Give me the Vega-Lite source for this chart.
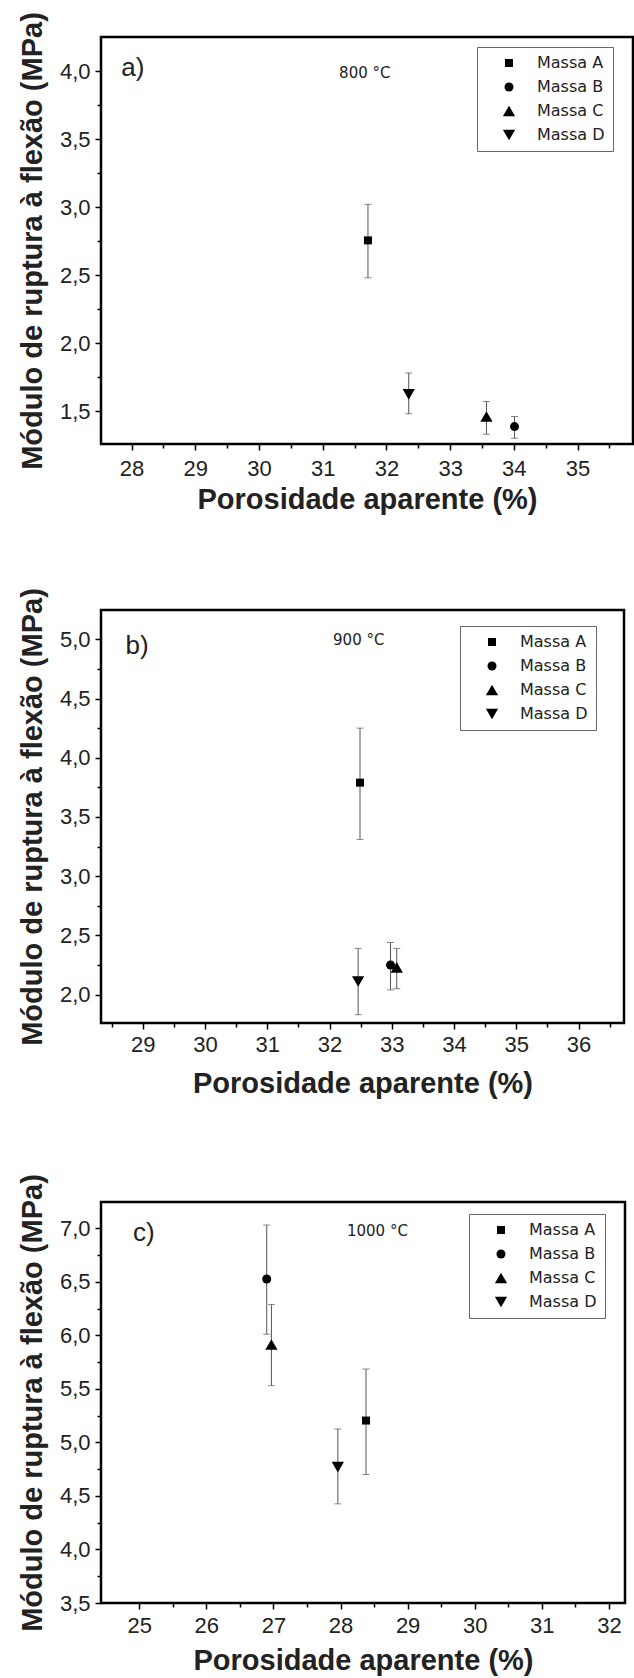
{
  "$schema": "https://vega.github.io/schema/vega-lite/v6.json",
  "padding": {"left": 17, "top": 10, "right": 0, "bottom": 0},
  "spacing": 70,
  "align": "none",
  "bounds": "full",
  "resolve": {"scale": {"shape": "independent", "size": "independent"}, "legend": {"shape": "independent", "size": "independent"}},
  "datasets": {
    "pa": [
      {"massa": "Massa A", "x": 31.71, "y": 2.755, "lo": 2.48, "hi": 3.02},
      {"massa": "Massa B", "x": 34.01, "y": 1.386, "lo": 1.30, "hi": 1.46},
      {"massa": "Massa C", "x": 33.57, "y": 1.46, "lo": 1.33, "hi": 1.57},
      {"massa": "Massa D", "x": 32.35, "y": 1.623, "lo": 1.48, "hi": 1.78}
    ],
    "pb": [
      {"massa": "Massa A", "x": 32.49, "y": 3.79, "lo": 3.31, "hi": 4.25},
      {"massa": "Massa B", "x": 32.98, "y": 2.25, "lo": 2.04, "hi": 2.44},
      {"massa": "Massa C", "x": 33.08, "y": 2.23, "lo": 2.05, "hi": 2.39},
      {"massa": "Massa D", "x": 32.46, "y": 2.11, "lo": 1.83, "hi": 2.39}
    ],
    "pc": [
      {"massa": "Massa A", "x": 28.38, "y": 5.204, "lo": 4.70, "hi": 5.685},
      {"massa": "Massa B", "x": 26.90, "y": 6.526, "lo": 6.01, "hi": 7.03},
      {"massa": "Massa C", "x": 26.97, "y": 5.914, "lo": 5.53, "hi": 6.287},
      {"massa": "Massa D", "x": 27.96, "y": 4.769, "lo": 4.426, "hi": 5.125}
    ]
  },
  "vconcat": [
    {
      "width": 532, "height": 407,
      "data": {"name": "pa"},
      "resolve": {"axis": {"x": "independent", "y": "independent"}},
      "layer": [
        {
          "mark": {"type": "errorbar", "color": "#555", "ticks": {"size": 7, "thickness": 1}, "rule": {"strokeWidth": 1}},
          "encoding": {
            "x": {"field": "x", "type": "quantitative", "scale": {"domain": [27.52, 35.87], "nice": false, "zero": false}, "axis": null},
            "y": {"field": "lo", "type": "quantitative", "scale": {"domain": [1.258, 4.25], "nice": false, "zero": false}, "axis": null},
            "y2": {"field": "hi"}
          }
        },
        {
          "mark": {"type": "point", "filled": true, "color": "black", "opacity": 1, "strokeWidth": 0},
          "encoding": {
            "x": {"field": "x", "type": "quantitative", "scale": {"domain": [27.52, 35.87], "nice": false, "zero": false},
              "axis": {"orient": "bottom", "values": [28, 29, 30, 31, 32, 33, 34, 35], "format": "d", "title": "Porosidade aparente (%)", "tickSize": 6, "labelPadding": 8, "titlePadding": 6}},
            "y": {"field": "y", "type": "quantitative", "scale": {"domain": [1.258, 4.25], "nice": false, "zero": false},
              "axis": {"orient": "left", "values": [1.5, 2, 2.5, 3, 3.5, 4], "labelExpr": "replace(format(datum.value, '.1f'), '.', ',')", "title": "Módulo de ruptura à flexão (MPa)", "tickSize": 6, "labelPadding": 5, "titlePadding": 12}},
            "shape": {"field": "massa", "type": "nominal", "scale": {"type": "ordinal", "domain": ["Massa A", "Massa B", "Massa C", "Massa D"], "range": ["square", "circle", "triangle-up", "triangle-down"]},
              "legend": {"orient": "none", "legendX": 376, "legendY": 10, "title": null, "padding": 8, "strokeColor": "#666", "fillColor": "white", "labelFont": "DejaVu Sans", "labelFontSize": 16, "labelColor": "#222", "symbolOffset": 16, "labelOffset": 20, "rowPadding": 8, "symbolFillColor": "black", "symbolStrokeColor": "black", "symbolStrokeWidth": 0}},
            "size": {"field": "massa", "type": "nominal", "scale": {"type": "ordinal", "domain": ["Massa A", "Massa B", "Massa C", "Massa D"], "range": [64, 81, 150, 150]},
              "legend": {"orient": "none", "legendX": 376, "legendY": 10, "title": null, "padding": 8, "strokeColor": "#666", "fillColor": "white", "labelFont": "DejaVu Sans", "labelFontSize": 16, "labelColor": "#222", "symbolOffset": 16, "labelOffset": 20, "rowPadding": 8, "symbolFillColor": "black", "symbolStrokeColor": "black", "symbolStrokeWidth": 0}}
          }
        },
        {
          "data": {"values": [{"label": "a)", "x": 28.02, "y": 4.02}]},
          "mark": {"type": "text", "font": "Liberation Sans", "fontSize": 26, "color": "#222", "align": "center", "baseline": "middle"},
          "encoding": {
            "x": {"field": "x", "type": "quantitative", "scale": {"domain": [27.52, 35.87], "nice": false, "zero": false},
              "axis": {"orient": "bottom", "values": [28.5, 29.5, 30.5, 31.5, 32.5, 33.5, 34.5, 35.5], "labels": false, "title": null, "tickSize": 4}},
            "y": {"field": "y", "type": "quantitative", "scale": {"domain": [1.258, 4.25], "nice": false, "zero": false},
              "axis": {"orient": "left", "values": [1.75, 2.25, 2.75, 3.25, 3.75], "labels": false, "title": null, "tickSize": 4}},
            "text": {"field": "label"}
          }
        },
        {
          "data": {"values": [{"label": "800 °C", "x": 31.66, "y": 3.985}]},
          "mark": {"type": "text", "font": "DejaVu Sans", "fontSize": 15, "color": "#222", "align": "center", "baseline": "middle"},
          "encoding": {
            "x": {"field": "x", "type": "quantitative", "scale": {"domain": [27.52, 35.87], "nice": false, "zero": false}, "axis": null},
            "y": {"field": "y", "type": "quantitative", "scale": {"domain": [1.258, 4.25], "nice": false, "zero": false}, "axis": null},
            "text": {"field": "label"}
          }
        }
      ]
    },
    {
      "spacing": 72,
      "align": "none",
      "bounds": "full",
      "resolve": {"scale": {"shape": "independent", "size": "independent"}, "legend": {"shape": "independent", "size": "independent"}},
      "vconcat": [
        {
          "width": 523, "height": 413,
          "data": {"name": "pb"},
          "resolve": {"axis": {"x": "independent", "y": "independent"}},
          "layer": [
            {
              "mark": {"type": "errorbar", "color": "#555", "ticks": {"size": 7, "thickness": 1}, "rule": {"strokeWidth": 1}},
              "encoding": {
                "x": {"field": "x", "type": "quantitative", "scale": {"domain": [28.33, 36.73], "nice": false, "zero": false}, "axis": null},
                "y": {"field": "lo", "type": "quantitative", "scale": {"domain": [1.76, 5.248], "nice": false, "zero": false}, "axis": null},
                "y2": {"field": "hi"}
              }
            },
            {
              "mark": {"type": "point", "filled": true, "color": "black", "opacity": 1, "strokeWidth": 0},
              "encoding": {
                "x": {"field": "x", "type": "quantitative", "scale": {"domain": [28.33, 36.73], "nice": false, "zero": false},
                  "axis": {"orient": "bottom", "values": [29, 30, 31, 32, 33, 34, 35, 36], "format": "d", "title": "Porosidade aparente (%)", "tickSize": 6, "labelPadding": 5, "titlePadding": 14}},
                "y": {"field": "y", "type": "quantitative", "scale": {"domain": [1.76, 5.248], "nice": false, "zero": false},
                  "axis": {"orient": "left", "values": [2, 2.5, 3, 3.5, 4, 4.5, 5], "labelExpr": "replace(format(datum.value, '.1f'), '.', ',')", "title": "Módulo de ruptura à flexão (MPa)", "tickSize": 6, "labelPadding": 5, "titlePadding": 12}},
                "shape": {"field": "massa", "type": "nominal", "scale": {"type": "ordinal", "domain": ["Massa A", "Massa B", "Massa C", "Massa D"], "range": ["square", "circle", "triangle-up", "triangle-down"]},
                  "legend": {"orient": "none", "legendX": 359, "legendY": 16, "title": null, "padding": 8, "strokeColor": "#666", "fillColor": "white", "labelFont": "DejaVu Sans", "labelFontSize": 16, "labelColor": "#222", "symbolOffset": 16, "labelOffset": 20, "rowPadding": 8, "symbolFillColor": "black", "symbolStrokeColor": "black", "symbolStrokeWidth": 0}},
                "size": {"field": "massa", "type": "nominal", "scale": {"type": "ordinal", "domain": ["Massa A", "Massa B", "Massa C", "Massa D"], "range": [64, 81, 150, 150]},
                  "legend": {"orient": "none", "legendX": 359, "legendY": 16, "title": null, "padding": 8, "strokeColor": "#666", "fillColor": "white", "labelFont": "DejaVu Sans", "labelFontSize": 16, "labelColor": "#222", "symbolOffset": 16, "labelOffset": 20, "rowPadding": 8, "symbolFillColor": "black", "symbolStrokeColor": "black", "symbolStrokeWidth": 0}}
              }
            },
            {
              "data": {"values": [{"label": "b)", "x": 28.91, "y": 4.941}]},
              "mark": {"type": "text", "font": "Liberation Sans", "fontSize": 26, "color": "#222", "align": "center", "baseline": "middle"},
              "encoding": {
                "x": {"field": "x", "type": "quantitative", "scale": {"domain": [28.33, 36.73], "nice": false, "zero": false},
                  "axis": {"orient": "bottom", "values": [28.5, 29.5, 30.5, 31.5, 32.5, 33.5, 34.5, 35.5, 36.5], "labels": false, "title": null, "tickSize": 4}},
                "y": {"field": "y", "type": "quantitative", "scale": {"domain": [1.76, 5.248], "nice": false, "zero": false},
                  "axis": {"orient": "left", "values": [2.25, 2.75, 3.25, 3.75, 4.25, 4.75], "labels": false, "title": null, "tickSize": 4}},
                "text": {"field": "label"}
              }
            },
            {
              "data": {"values": [{"label": "900 °C", "x": 32.47, "y": 4.995}]},
              "mark": {"type": "text", "font": "DejaVu Sans", "fontSize": 15, "color": "#222", "align": "center", "baseline": "middle"},
              "encoding": {
                "x": {"field": "x", "type": "quantitative", "scale": {"domain": [28.33, 36.73], "nice": false, "zero": false}, "axis": null},
                "y": {"field": "y", "type": "quantitative", "scale": {"domain": [1.76, 5.248], "nice": false, "zero": false}, "axis": null},
                "text": {"field": "label"}
              }
            }
          ]
        },
        {
          "width": 524, "height": 401,
          "data": {"name": "pc"},
          "resolve": {"axis": {"x": "independent", "y": "independent"}},
          "layer": [
            {
              "mark": {"type": "errorbar", "color": "#555", "ticks": {"size": 7, "thickness": 1}, "rule": {"strokeWidth": 1}},
              "encoding": {
                "x": {"field": "x", "type": "quantitative", "scale": {"domain": [24.43, 32.24], "nice": false, "zero": false}, "axis": null},
                "y": {"field": "lo", "type": "quantitative", "scale": {"domain": [3.5, 7.245], "nice": false, "zero": false}, "axis": null},
                "y2": {"field": "hi"}
              }
            },
            {
              "mark": {"type": "point", "filled": true, "color": "black", "opacity": 1, "strokeWidth": 0},
              "encoding": {
                "x": {"field": "x", "type": "quantitative", "scale": {"domain": [24.43, 32.24], "nice": false, "zero": false},
                  "axis": {"orient": "bottom", "values": [25, 26, 27, 28, 29, 30, 31, 32], "format": "d", "title": "Porosidade aparente (%)", "tickSize": 6, "labelPadding": 6, "titlePadding": 10}},
                "y": {"field": "y", "type": "quantitative", "scale": {"domain": [3.5, 7.245], "nice": false, "zero": false},
                  "axis": {"orient": "left", "values": [3.5, 4, 4.5, 5, 5.5, 6, 6.5, 7], "labelExpr": "replace(format(datum.value, '.1f'), '.', ',')", "title": "Módulo de ruptura à flexão (MPa)", "tickSize": 6, "labelPadding": 5, "titlePadding": 12}},
                "shape": {"field": "massa", "type": "nominal", "scale": {"type": "ordinal", "domain": ["Massa A", "Massa B", "Massa C", "Massa D"], "range": ["square", "circle", "triangle-up", "triangle-down"]},
                  "legend": {"orient": "none", "legendX": 368, "legendY": 12, "title": null, "padding": 8, "strokeColor": "#666", "fillColor": "white", "labelFont": "DejaVu Sans", "labelFontSize": 16, "labelColor": "#222", "symbolOffset": 16, "labelOffset": 20, "rowPadding": 8, "symbolFillColor": "black", "symbolStrokeColor": "black", "symbolStrokeWidth": 0}},
                "size": {"field": "massa", "type": "nominal", "scale": {"type": "ordinal", "domain": ["Massa A", "Massa B", "Massa C", "Massa D"], "range": [64, 81, 150, 150]},
                  "legend": {"orient": "none", "legendX": 368, "legendY": 12, "title": null, "padding": 8, "strokeColor": "#666", "fillColor": "white", "labelFont": "DejaVu Sans", "labelFontSize": 16, "labelColor": "#222", "symbolOffset": 16, "labelOffset": 20, "rowPadding": 8, "symbolFillColor": "black", "symbolStrokeColor": "black", "symbolStrokeWidth": 0}}
              }
            },
            {
              "data": {"values": [{"label": "c)", "x": 25.07, "y": 6.951}]},
              "mark": {"type": "text", "font": "Liberation Sans", "fontSize": 26, "color": "#222", "align": "center", "baseline": "middle"},
              "encoding": {
                "x": {"field": "x", "type": "quantitative", "scale": {"domain": [24.43, 32.24], "nice": false, "zero": false},
                  "axis": {"orient": "bottom", "values": [25.5, 26.5, 27.5, 28.5, 29.5, 30.5, 31.5], "labels": false, "title": null, "tickSize": 4}},
                "y": {"field": "y", "type": "quantitative", "scale": {"domain": [3.5, 7.245], "nice": false, "zero": false},
                  "axis": {"orient": "left", "values": [3.75, 4.25, 4.75, 5.25, 5.75, 6.25, 6.75], "labels": false, "title": null, "tickSize": 4}},
                "text": {"field": "label"}
              }
            },
            {
              "data": {"values": [{"label": "1000 °C", "x": 28.55, "y": 6.977}]},
              "mark": {"type": "text", "font": "DejaVu Sans", "fontSize": 15, "color": "#222", "align": "center", "baseline": "middle"},
              "encoding": {
                "x": {"field": "x", "type": "quantitative", "scale": {"domain": [24.43, 32.24], "nice": false, "zero": false}, "axis": null},
                "y": {"field": "y", "type": "quantitative", "scale": {"domain": [3.5, 7.245], "nice": false, "zero": false}, "axis": null},
                "text": {"field": "label"}
              }
            }
          ]
        }
      ]
    }
  ],
  "config": {
    "background": "white",
    "view": {"stroke": "black", "strokeWidth": 2.5},
    "axis": {
      "domain": false, "grid": false, "ticks": true,
      "tickColor": "black", "tickWidth": 1.5,
      "labelFont": "Liberation Sans", "labelFontSize": 22, "labelColor": "#222",
      "labelFlush": false, "labelOverlap": false,
      "titleFont": "Liberation Sans", "titleFontSize": 29, "titleFontWeight": "bold", "titleColor": "#222"
    }
  }
}
